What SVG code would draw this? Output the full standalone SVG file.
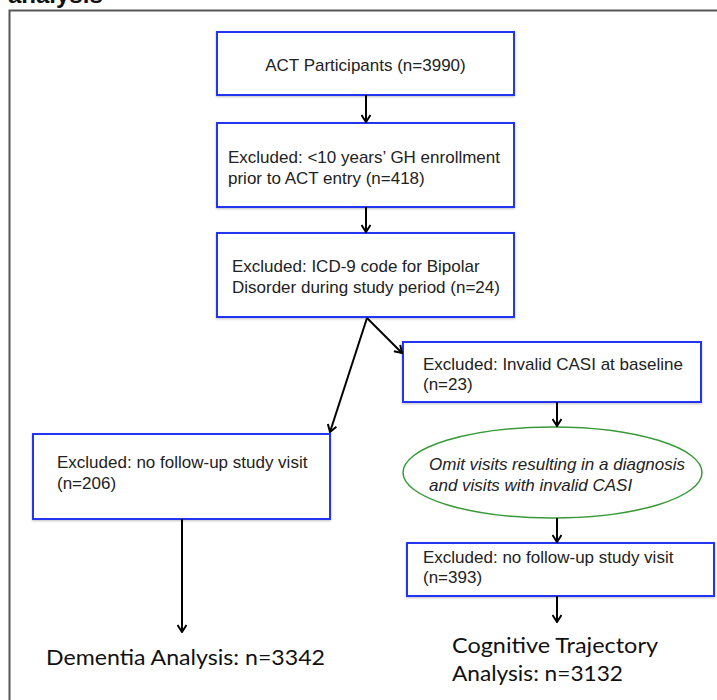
<svg xmlns="http://www.w3.org/2000/svg" width="717" height="700" viewBox="0 0 717 700">
<style>
.box{fill:#ffffff;stroke:#2236f0;stroke-width:2;filter:url(#sh)}
.t{font-family:"Liberation Sans",Arial,sans-serif;font-size:17px;fill:#222}
.ti{font-family:"Liberation Sans",Arial,sans-serif;font-size:17px;font-style:italic;fill:#222}
.big{font-family:Lato,"Open Sans",sans-serif;font-size:22px;fill:#111}
.conn{stroke:#000;stroke-width:2;fill:none;marker-end:url(#ah)}
</style>
<defs>
<filter id="sh" x="-5%" y="-10%" width="110%" height="120%">
<feDropShadow dx="0" dy="1" stdDeviation="1.2" flood-color="#000" flood-opacity="0.25"/>
</filter>
<marker id="ah" viewBox="0 0 10 10" refX="9" refY="5" markerWidth="10" markerHeight="10" markerUnits="userSpaceOnUse" orient="auto">
<path d="M2,0.5 L9,5 L2,9.5" fill="none" stroke="#000" stroke-width="2"/>
</marker>
</defs>
<rect width="717" height="700" fill="#ffffff"/>
<text x="8" y="3" font-family="Liberation Sans,Arial,sans-serif" font-size="24" font-weight="bold" fill="#111">analysis</text>
<path d="M9.5,705 V10.5 H720" fill="none" stroke="#555" stroke-width="2"/>

<g id="n1"><rect class="box" x="217" y="32" width="297" height="63"/><text class="t" x="365.5" y="71" text-anchor="middle">ACT Participants (n=3990)</text></g>
<g id="n2"><rect class="box" x="217" y="123" width="297" height="84"/><text class="t" x="228" y="163">Excluded: &lt;10 years’ GH enrollment</text><text class="t" x="228" y="184">prior to ACT entry (n=418)</text></g>
<g id="n3"><rect class="box" x="217" y="233" width="297" height="84"/><text class="t" x="232" y="272">Excluded: ICD-9 code for Bipolar</text><text class="t" x="232" y="293">Disorder during study period (n=24)</text></g>
<g id="n4"><rect class="box" x="33" y="434" width="297" height="85"/><text class="t" x="57" y="468">Excluded: no follow-up study visit</text><text class="t" x="57" y="489">(n=206)</text></g>
<g id="n5"><rect class="box" x="403" y="342" width="298" height="60"/><text class="t" x="423" y="370">Excluded: Invalid CASI at baseline</text><text class="t" x="423" y="390">(n=23)</text></g>
<g id="n6"><ellipse cx="552.5" cy="472.5" rx="149.5" ry="45.5" fill="#fff" stroke="#3a9a3a" stroke-width="1.5"/><text class="ti" x="429" y="470">Omit visits resulting in a diagnosis</text><text class="ti" x="429" y="491">and visits with invalid CASI</text></g>
<g id="n7"><rect class="box" x="407" y="543" width="307" height="53"/><text class="t" x="423" y="563">Excluded: no follow-up study visit</text><text class="t" x="423" y="583">(n=393)</text></g>
<g id="n8"><text class="big" x="46" y="665" textLength="279" lengthAdjust="spacingAndGlyphs">Dementia Analysis: n=3342</text></g>
<g id="n9"><text class="big" x="452" y="653" textLength="206" lengthAdjust="spacingAndGlyphs">Cognitive Trajectory</text><text class="big" x="452" y="681" textLength="171" lengthAdjust="spacingAndGlyphs">Analysis: n=3132</text></g>

<g id="connectors">
<line class="conn" x1="366" y1="95" x2="366" y2="122"/>
<line class="conn" x1="366" y1="207" x2="366" y2="232"/>
<line class="conn" x1="367" y1="318" x2="330" y2="432"/>
<line class="conn" x1="367" y1="318" x2="402" y2="353"/>
<line class="conn" x1="182" y1="519" x2="182" y2="632"/>
<line class="conn" x1="557" y1="402" x2="557" y2="426"/>
<line class="conn" x1="557" y1="518" x2="557" y2="542"/>
<line class="conn" x1="557" y1="596" x2="557" y2="622"/>
</g>
</svg>
